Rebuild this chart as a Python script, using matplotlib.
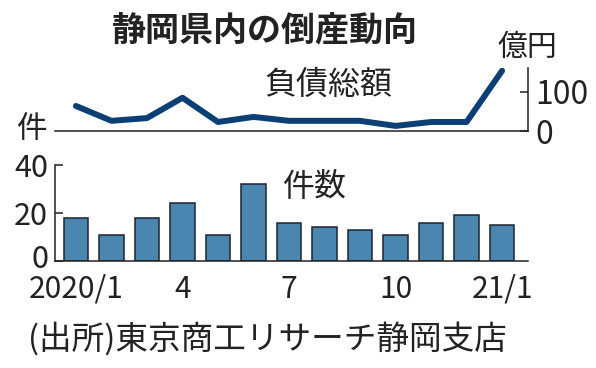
import numpy as np
import matplotlib
matplotlib.use("Agg")
from matplotlib import pyplot as plt
from matplotlib.transforms import ScaledTranslation

# monthly data, 2020/1 .. 2021/1
months = ["2020/1", "2", "3", "4", "5", "6", "7", "8", "9", "10", "11", "12", "21/1"]
debt = [64, 26, 33, 85, 23, 36, 26, 26, 26, 13, 23, 23, 154]   # 負債総額 (億円)
cases = [18, 11, 18, 24, 11, 32, 16, 14, 13, 11, 16, 19, 15]    # 件数
shown = [0, 3, 6, 9, 12]
debt_ticks = [0, 100]
case_ticks = [0, 20, 40]

jp = "Noto Sans CJK JP"
plt.rcParams["font.family"] = ["Liberation Sans Narrow", "DejaVu Sans Condensed", jp]

W, H = 596, 368
def px(x, y):
    return x / W, 1 - y / H

ink = "#222222"
fig = plt.figure(figsize=(W / 100, H / 100), dpi=100)
x = np.arange(len(months))

# 負債総額 line
ax1 = fig.add_axes([55 / W, 1 - 131 / H, 473 / W, 63 / H])
ax1.plot(x, debt, color="#0c3f73", lw=4.3, solid_capstyle="round", solid_joinstyle="round")
ax1.set_xlim(-0.59, 12.73)
ax1.set_ylim(0, 161)
for s in ["top", "left"]:
    ax1.spines[s].set_visible(False)
for s in ["bottom", "right"]:
    ax1.spines[s].set_color(ink)
    ax1.spines[s].set_linewidth(1.1)
ax1.set_xticks([])
ax1.yaxis.tick_right()
ax1.set_yticks(debt_ticks)
ax1.tick_params(axis="y", direction="in", length=5.5, width=1.1, color=ink,
                labelsize=23, labelcolor=ink, pad=5)
ax1.patch.set_alpha(0)

# 件数 bars
ax2 = fig.add_axes([55 / W, 1 - 261 / H, 473 / W, 96 / H])
ax2.bar(x, cases, width=0.68, color="#4a86b0", edgecolor="#1c2530", linewidth=1.1)
ax2.set_xlim(-0.59, 12.73)
ax2.set_ylim(0, 40)
for s in ["top", "right"]:
    ax2.spines[s].set_visible(False)
for s in ["bottom", "left"]:
    ax2.spines[s].set_color(ink)
    ax2.spines[s].set_linewidth(1.1)
ax2.set_yticks(case_ticks)
ax2.set_xticks(shown)
ax2.set_xticklabels([months[i] for i in shown])
ax2.tick_params(axis="y", direction="in", length=5.5, width=1.1, color=ink,
                labelsize=22, labelcolor=ink, pad=5)
ax2.tick_params(axis="x", length=0, labelsize=21.5, labelcolor=ink, pad=9)
ax2.patch.set_alpha(0)

# nudge the "0" up a little so it does not run into "2020/1"
zero = ax2.get_yticklabels()[0]
zero.set_transform(zero.get_transform() + ScaledTranslation(0, 5 / 100, fig.dpi_scale_trans))

# texts
fig.text(*px(265, 31), "静岡県内の倒産動向", family=jp, fontsize=24.5, weight="bold",
         color=ink, ha="center", va="center")
fig.text(*px(328, 85), "負債総額", family=jp, fontsize=23, color=ink, ha="center", va="center")
fig.text(*px(315, 187), "件数", family=jp, fontsize=23, color=ink, ha="center", va="center")
fig.text(*px(32, 129), "件", family=jp, fontsize=22, color=ink, ha="center", va="center")
fig.text(*px(527, 47), "億円", family=jp, fontsize=21.5, color=ink, ha="center", va="center")
fig.text(*px(28, 339), "(出所)東京商工リサーチ静岡支店", family=jp, fontsize=23.5,
         color=ink, ha="left", va="center")

fig.savefig("out.png", dpi=100, facecolor="white")
plt.close(fig)
